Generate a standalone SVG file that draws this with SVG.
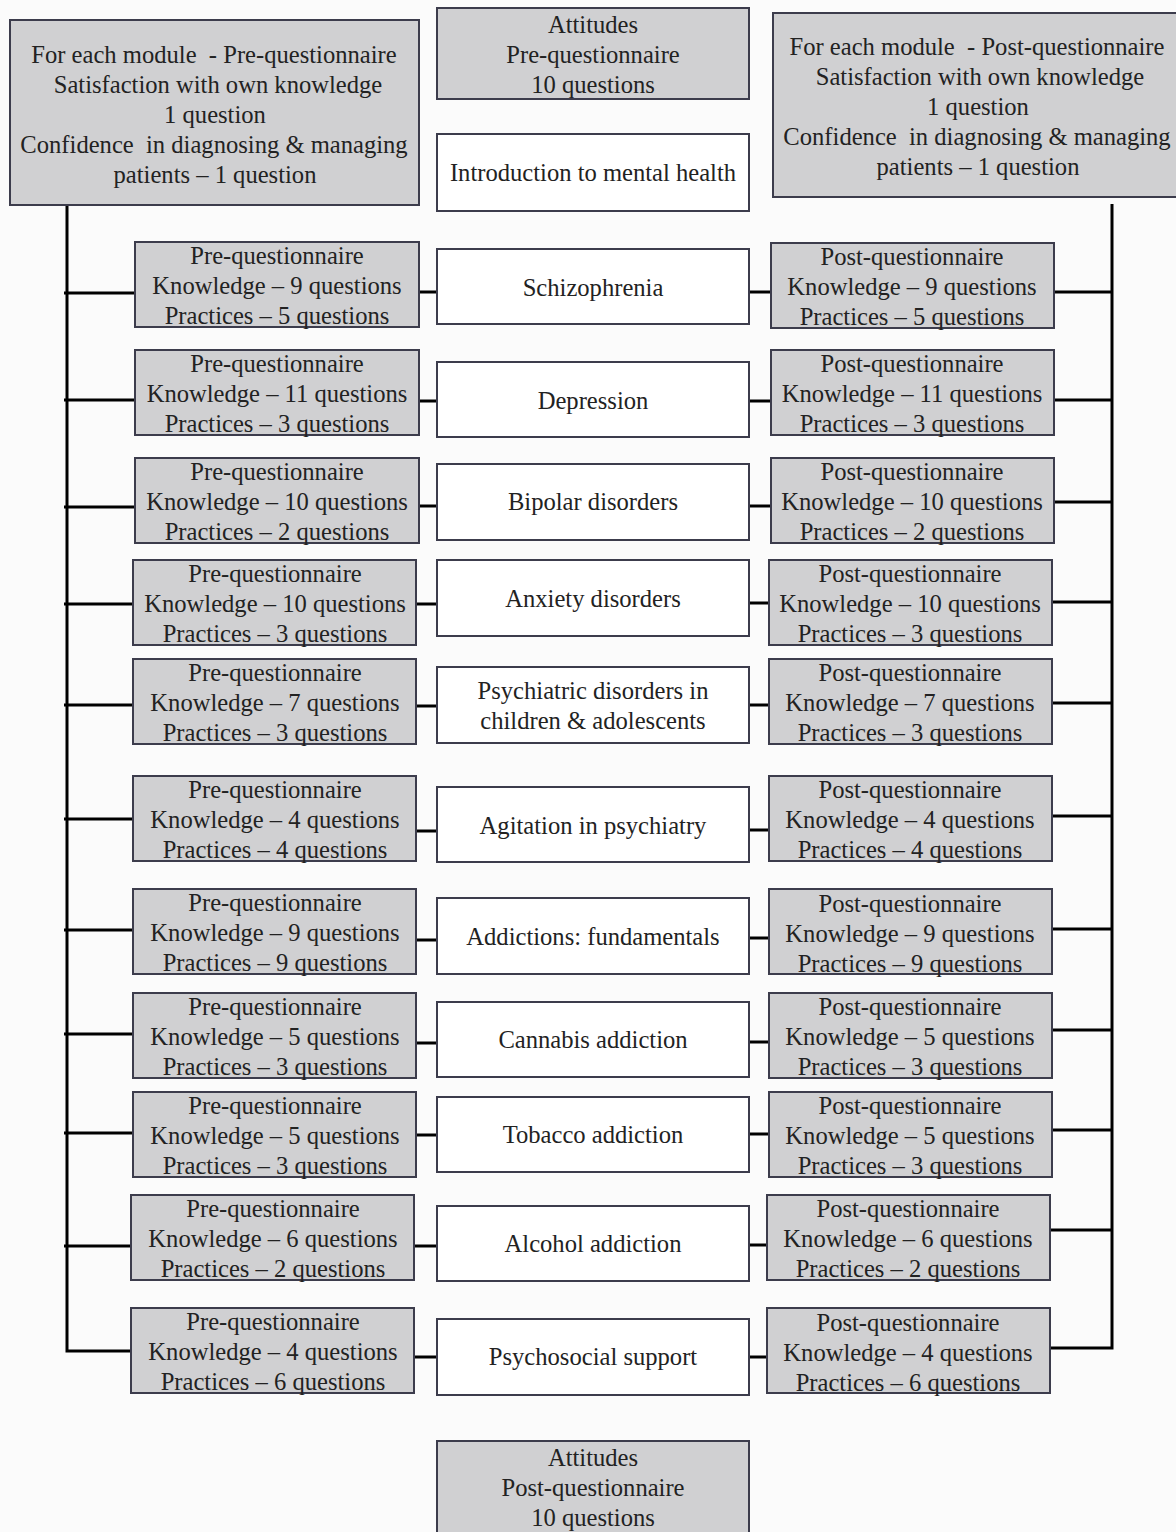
<svg xmlns="http://www.w3.org/2000/svg" width="1176" height="1532" viewBox="0 0 1176 1532">
<style>
.g{fill:#d0d0d2;stroke:#3c3c4c;stroke-width:2}
.w{fill:#ffffff;stroke:#3c3c4c;stroke-width:2}
text{font-family:"Liberation Serif","Times New Roman",serif;font-size:24.6px;fill:#222;text-anchor:middle;white-space:pre}
.c{stroke:#000;stroke-width:3;fill:none}
</style>
<rect width="1176" height="1532" fill="#fbfbfb"/>
<g id="connectors">
<path class="c" d="M67,205 V1351 H131"/>
<path class="c" d="M1112,204 V1348 H1050"/>
<line class="c" x1="64" y1="293" x2="135" y2="293"/><line class="c" x1="419" y1="292" x2="443" y2="292"/><line class="c" x1="749" y1="292" x2="771" y2="292"/><line class="c" x1="1054" y1="292" x2="1112" y2="292"/>
<line class="c" x1="64" y1="400" x2="135" y2="400"/><line class="c" x1="419" y1="401" x2="443" y2="401"/><line class="c" x1="749" y1="401" x2="771" y2="401"/><line class="c" x1="1054" y1="400" x2="1112" y2="400"/>
<line class="c" x1="64" y1="507" x2="135" y2="507"/><line class="c" x1="419" y1="506" x2="443" y2="506"/><line class="c" x1="749" y1="506" x2="771" y2="506"/><line class="c" x1="1054" y1="502" x2="1112" y2="502"/>
<line class="c" x1="64" y1="604" x2="133" y2="604"/><line class="c" x1="416" y1="604" x2="443" y2="604"/><line class="c" x1="749" y1="603" x2="769" y2="603"/><line class="c" x1="1052" y1="602" x2="1112" y2="602"/>
<line class="c" x1="64" y1="705" x2="133" y2="705"/><line class="c" x1="416" y1="706" x2="443" y2="706"/><line class="c" x1="749" y1="705" x2="769" y2="705"/><line class="c" x1="1052" y1="703" x2="1112" y2="703"/>
<line class="c" x1="64" y1="819" x2="133" y2="819"/><line class="c" x1="416" y1="831" x2="443" y2="831"/><line class="c" x1="749" y1="830" x2="769" y2="830"/><line class="c" x1="1052" y1="816" x2="1112" y2="816"/>
<line class="c" x1="64" y1="930" x2="133" y2="930"/><line class="c" x1="416" y1="940" x2="443" y2="940"/><line class="c" x1="749" y1="938" x2="769" y2="938"/><line class="c" x1="1052" y1="929" x2="1112" y2="929"/>
<line class="c" x1="64" y1="1034" x2="133" y2="1034"/><line class="c" x1="416" y1="1043" x2="443" y2="1043"/><line class="c" x1="749" y1="1042" x2="769" y2="1042"/><line class="c" x1="1052" y1="1030" x2="1112" y2="1030"/>
<line class="c" x1="64" y1="1133" x2="133" y2="1133"/><line class="c" x1="416" y1="1135" x2="443" y2="1135"/><line class="c" x1="749" y1="1134" x2="769" y2="1134"/><line class="c" x1="1052" y1="1130" x2="1112" y2="1130"/>
<line class="c" x1="64" y1="1246" x2="131" y2="1246"/><line class="c" x1="414" y1="1246" x2="443" y2="1246"/><line class="c" x1="749" y1="1245" x2="767" y2="1245"/><line class="c" x1="1050" y1="1230" x2="1112" y2="1230"/>
<line class="c" x1="414" y1="1357" x2="443" y2="1357"/><line class="c" x1="749" y1="1357" x2="767" y2="1357"/>
</g>
<g id="pre-general"><rect class="g" x="10" y="20" width="409" height="185"/>
<text x="214" y="63">For each module  - Pre-questionnaire</text><text x="218" y="93">Satisfaction with own knowledge</text><text x="215" y="123">1 question</text><text x="214" y="153">Confidence  in diagnosing &amp; managing</text><text x="215" y="183">patients – 1 question</text></g>
<g id="attitudes-pre"><rect class="g" x="437" y="8" width="312" height="91"/>
<text x="593" y="33">Attitudes</text><text x="593" y="63">Pre-questionnaire</text><text x="593" y="93">10 questions</text></g>
<g id="post-general"><rect class="g" x="773" y="13" width="410" height="184"/>
<text x="977" y="55">For each module  - Post-questionnaire</text><text x="980" y="85">Satisfaction with own knowledge</text><text x="978" y="115">1 question</text><text x="977" y="145">Confidence  in diagnosing &amp; managing</text><text x="978" y="175">patients – 1 question</text></g>
<g id="intro"><rect class="w" x="437" y="134" width="312" height="77"/><text x="593" y="181">Introduction to mental health</text></g>

<g id="pre1"><rect class="g" x="135" y="242" width="284" height="85"/><text x="277" y="264">Pre-questionnaire</text><text x="277" y="294">Knowledge – 9 questions</text><text x="277" y="324">Practices – 5 questions</text></g>
<g id="mod1"><rect class="w" x="437" y="249" width="312" height="75"/><text x="593" y="296">Schizophrenia</text></g>
<g id="post1"><rect class="g" x="771" y="243" width="283" height="85"/><text x="912" y="265">Post-questionnaire</text><text x="912" y="295">Knowledge – 9 questions</text><text x="912" y="325">Practices – 5 questions</text></g>

<g id="pre2"><rect class="g" x="135" y="350" width="284" height="85"/><text x="277" y="372">Pre-questionnaire</text><text x="277" y="402">Knowledge – 11 questions</text><text x="277" y="432">Practices – 3 questions</text></g>
<g id="mod2"><rect class="w" x="437" y="362" width="312" height="75"/><text x="593" y="409">Depression</text></g>
<g id="post2"><rect class="g" x="771" y="350" width="283" height="85"/><text x="912" y="372">Post-questionnaire</text><text x="912" y="402">Knowledge – 11 questions</text><text x="912" y="432">Practices – 3 questions</text></g>

<g id="pre3"><rect class="g" x="135" y="458" width="284" height="85"/><text x="277" y="480">Pre-questionnaire</text><text x="277" y="510">Knowledge – 10 questions</text><text x="277" y="540">Practices – 2 questions</text></g>
<g id="mod3"><rect class="w" x="437" y="464" width="312" height="76"/><text x="593" y="510">Bipolar disorders</text></g>
<g id="post3"><rect class="g" x="771" y="458" width="283" height="85"/><text x="912" y="480">Post-questionnaire</text><text x="912" y="510">Knowledge – 10 questions</text><text x="912" y="540">Practices – 2 questions</text></g>

<g id="pre4"><rect class="g" x="133" y="560" width="283" height="85"/><text x="275" y="582">Pre-questionnaire</text><text x="275" y="612">Knowledge – 10 questions</text><text x="275" y="642">Practices – 3 questions</text></g>
<g id="mod4"><rect class="w" x="437" y="560" width="312" height="76"/><text x="593" y="607">Anxiety disorders</text></g>
<g id="post4"><rect class="g" x="769" y="560" width="283" height="85"/><text x="910" y="582">Post-questionnaire</text><text x="910" y="612">Knowledge – 10 questions</text><text x="910" y="642">Practices – 3 questions</text></g>

<g id="pre5"><rect class="g" x="133" y="659" width="283" height="85"/><text x="275" y="681">Pre-questionnaire</text><text x="275" y="711">Knowledge – 7 questions</text><text x="275" y="741">Practices – 3 questions</text></g>
<g id="mod5"><rect class="w" x="437" y="667" width="312" height="76"/><text x="593" y="699">Psychiatric disorders in</text><text x="593" y="729">children &amp; adolescents</text></g>
<g id="post5"><rect class="g" x="769" y="659" width="283" height="85"/><text x="910" y="681">Post-questionnaire</text><text x="910" y="711">Knowledge – 7 questions</text><text x="910" y="741">Practices – 3 questions</text></g>

<g id="pre6"><rect class="g" x="133" y="776" width="283" height="85"/><text x="275" y="798">Pre-questionnaire</text><text x="275" y="828">Knowledge – 4 questions</text><text x="275" y="858">Practices – 4 questions</text></g>
<g id="mod6"><rect class="w" x="437" y="787" width="312" height="75"/><text x="593" y="834">Agitation in psychiatry</text></g>
<g id="post6"><rect class="g" x="769" y="776" width="283" height="85"/><text x="910" y="798">Post-questionnaire</text><text x="910" y="828">Knowledge – 4 questions</text><text x="910" y="858">Practices – 4 questions</text></g>

<g id="pre7"><rect class="g" x="133" y="889" width="283" height="85"/><text x="275" y="911">Pre-questionnaire</text><text x="275" y="941">Knowledge – 9 questions</text><text x="275" y="971">Practices – 9 questions</text></g>
<g id="mod7"><rect class="w" x="437" y="898" width="312" height="76"/><text x="593" y="945">Addictions: fundamentals</text></g>
<g id="post7"><rect class="g" x="769" y="889" width="283" height="85"/><text x="910" y="912">Post-questionnaire</text><text x="910" y="942">Knowledge – 9 questions</text><text x="910" y="972">Practices – 9 questions</text></g>

<g id="pre8"><rect class="g" x="133" y="993" width="283" height="85"/><text x="275" y="1015">Pre-questionnaire</text><text x="275" y="1045">Knowledge – 5 questions</text><text x="275" y="1075">Practices – 3 questions</text></g>
<g id="mod8"><rect class="w" x="437" y="1002" width="312" height="75"/><text x="593" y="1048">Cannabis addiction</text></g>
<g id="post8"><rect class="g" x="769" y="993" width="283" height="85"/><text x="910" y="1015">Post-questionnaire</text><text x="910" y="1045">Knowledge – 5 questions</text><text x="910" y="1075">Practices – 3 questions</text></g>

<g id="pre9"><rect class="g" x="133" y="1092" width="283" height="85"/><text x="275" y="1114">Pre-questionnaire</text><text x="275" y="1144">Knowledge – 5 questions</text><text x="275" y="1174">Practices – 3 questions</text></g>
<g id="mod9"><rect class="w" x="437" y="1097" width="312" height="75"/><text x="593" y="1143">Tobacco addiction</text></g>
<g id="post9"><rect class="g" x="769" y="1092" width="283" height="85"/><text x="910" y="1114">Post-questionnaire</text><text x="910" y="1144">Knowledge – 5 questions</text><text x="910" y="1174">Practices – 3 questions</text></g>

<g id="pre10"><rect class="g" x="131" y="1195" width="283" height="85"/><text x="273" y="1217">Pre-questionnaire</text><text x="273" y="1247">Knowledge – 6 questions</text><text x="273" y="1277">Practices – 2 questions</text></g>
<g id="mod10"><rect class="w" x="437" y="1206" width="312" height="75"/><text x="593" y="1252">Alcohol addiction</text></g>
<g id="post10"><rect class="g" x="767" y="1195" width="283" height="85"/><text x="908" y="1217">Post-questionnaire</text><text x="908" y="1247">Knowledge – 6 questions</text><text x="908" y="1277">Practices – 2 questions</text></g>

<g id="pre11"><rect class="g" x="131" y="1308" width="283" height="85"/><text x="273" y="1330">Pre-questionnaire</text><text x="273" y="1360">Knowledge – 4 questions</text><text x="273" y="1390">Practices – 6 questions</text></g>
<g id="mod11"><rect class="w" x="437" y="1319" width="312" height="76"/><text x="593" y="1365">Psychosocial support</text></g>
<g id="post11"><rect class="g" x="767" y="1308" width="283" height="85"/><text x="908" y="1331">Post-questionnaire</text><text x="908" y="1361">Knowledge – 4 questions</text><text x="908" y="1391">Practices – 6 questions</text></g>

<g id="attitudes-post"><rect class="g" x="437" y="1441" width="312" height="100"/>
<text x="593" y="1466">Attitudes</text><text x="593" y="1496">Post-questionnaire</text><text x="593" y="1526">10 questions</text></g>
</svg>
